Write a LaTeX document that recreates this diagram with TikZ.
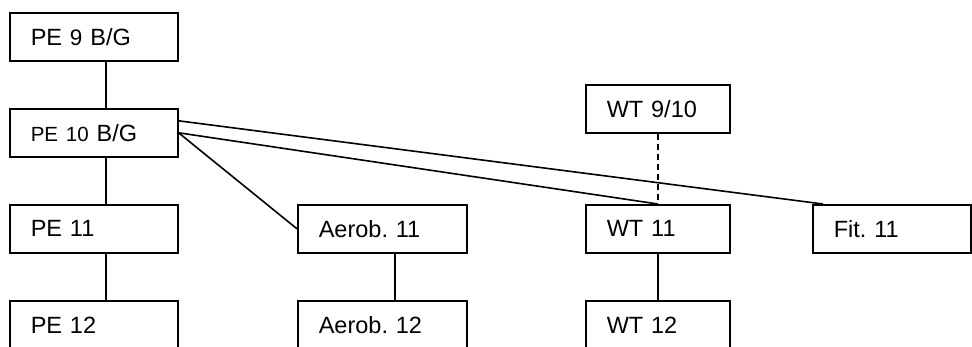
\documentclass[tikz,border=0pt]{standalone}
\usepackage{fontspec}
\setmainfont{Liberation Sans}
\usetikzlibrary{calc}
\begin{document}
\frenchspacing
\begin{tikzpicture}[x=1pt,y=-1pt,
  course/.style={draw=black, line width=1.6pt, rectangle, anchor=north west,
    minimum height=48pt, inner ysep=0pt, inner xsep=21pt, align=left,
    font=\fontsize{23.5}{28}\selectfont},
  link/.style={draw=black, line width=1.6pt},
  optlink/.style={link, dashed, dash pattern=on 6pt off 4pt}]
\useasboundingbox (0,0) rectangle (972,346);
\node[course, text width=126pt] (pe9) at (9,12) {PE {\fontsize{22.5}{28}\selectfont 9} B/G};
\node[course, text width=126pt] (pe10) at (9,108) {{\fontsize{20.5}{28}\selectfont PE 10} B/G};
\node[course, text width=126pt] (pe11) at (9,204) {PE 11};
\node[course, text width=126pt] (pe12) at (9,300) {PE 12};
\node[course, text width=127pt] (aer11) at (297,204) {Aerob. 11};
\node[course, text width=127pt] (aer12) at (297,300) {Aerob. 12};
\node[course, text width=102pt] (wt910) at (585,84) {WT 9/10};
\node[course, text width=102pt] (wt11) at (585,204) {WT 11};
\node[course, text width=102pt] (wt12) at (585,300) {WT 12};
\node[course, text width=116pt] (fit11) at (812,204) {Fit. 11};
% vertical links
\draw[link] ($(pe9.south)+(12pt,0pt)$) -- ($(pe10.north)+(12pt,0pt)$);
\draw[link] ($(pe10.south)+(12pt,0pt)$) -- ($(pe11.north)+(12pt,0pt)$);
\draw[link] ($(pe11.south)+(12pt,0pt)$) -- ($(pe12.north)+(12pt,0pt)$);
\draw[link] ($(aer11.south)+(12.5pt,0pt)$) -- ($(aer12.north)+(12.5pt,0pt)$);
\draw[link] (wt11.south) -- (wt12.north);
\draw[optlink] (wt910.south) -- (wt11.north);
% diagonal links
\coordinate (pe10up) at ($(pe10.east)+(0pt,12pt)$);
\coordinate (fitin) at ($(fit11.north west)+(11pt,0pt)$);
\draw[link] (pe10.east) -- (aer11.west);
\draw[link] (pe10.east) -- (wt11.north);
\draw[link] (pe10up) -- (fitin);
\end{tikzpicture}
\end{document}
